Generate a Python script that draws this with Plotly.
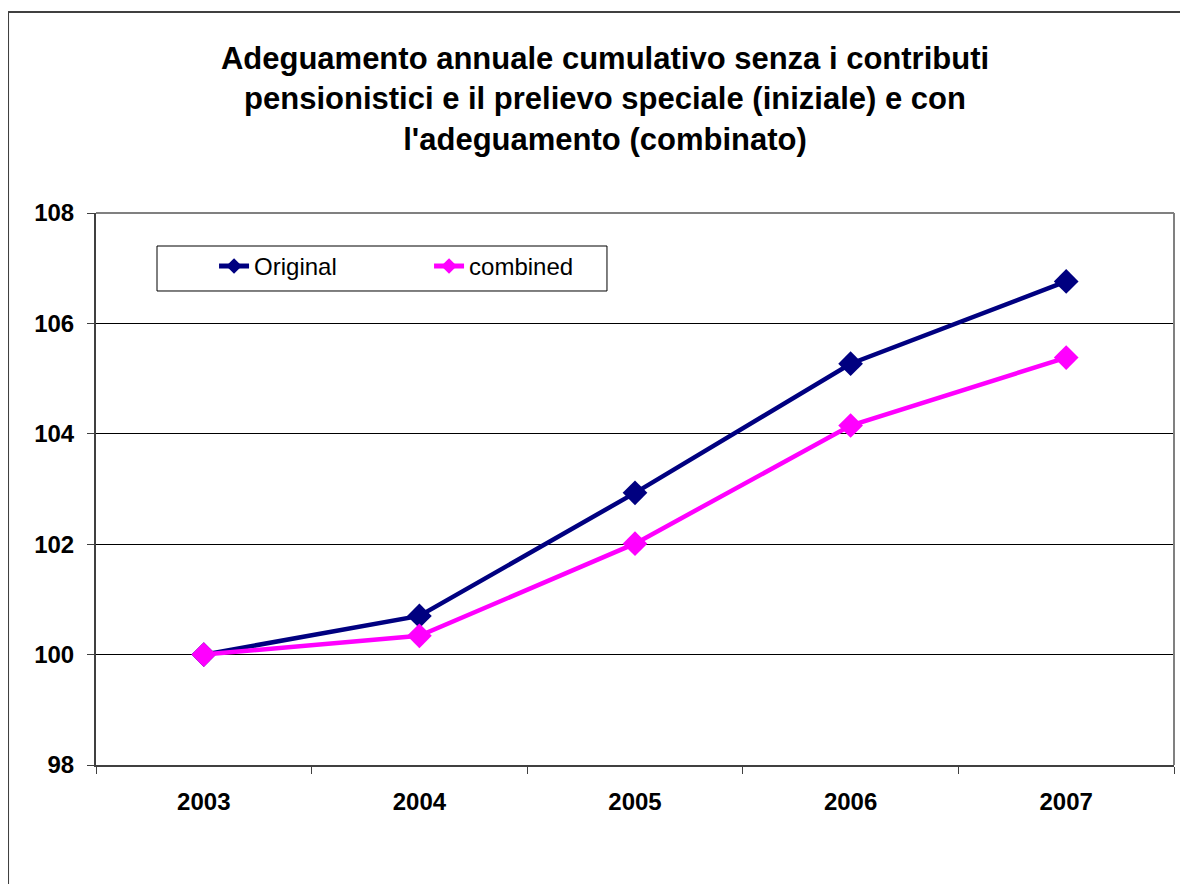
import plotly.graph_objects as go

years = ["2003", "2004", "2005", "2006", "2007"]
original = [100.0, 100.7, 102.93, 105.27, 106.76]
combined = [100.0, 100.34, 102.01, 104.15, 105.38]

title_lines = [
    "Adeguamento annuale cumulativo senza i contributi",
    "pensionistici e il prelievo speciale (iniziale) e con",
    "l'adeguamento (combinato)",
]

FONT = "Arial, Liberation Sans, sans-serif"

fig = go.Figure()
fig.add_trace(go.Scatter(
    x=years, y=original, name="Original", mode="lines+markers",
    line=dict(color="#000080", width=4.5),
    marker=dict(symbol="diamond", size=19, color="#000080"),
))
fig.add_trace(go.Scatter(
    x=years, y=combined, name="combined", mode="lines+markers",
    line=dict(color="#FF00FF", width=4.5),
    marker=dict(symbol="diamond", size=19, color="#FF00FF"),
))

# plot area border (top / right), legend box and outer chart frame
border = "#808080"
frame = "#404040"
shapes = [
    dict(type="line", xref="paper", yref="paper", x0=0, x1=1, y0=1, y1=1,
         line=dict(color=border, width=2), layer="above"),
    dict(type="line", xref="paper", yref="paper", x0=1, x1=1, y0=0, y1=1,
         line=dict(color=border, width=2), layer="above"),
    dict(type="rect", xref="paper", yref="paper", x0=0.0566, x1=0.474, y0=0.8587, y1=0.9402,
         line=dict(color="black", width=1), layer="above"),
    dict(type="line", xref="paper", yref="paper", x0=-0.0816, x1=-0.0816, y0=-0.3, y1=1.364,
         line=dict(color=frame, width=2)),
    dict(type="line", xref="paper", yref="paper", x0=-0.0816, x1=1.05, y0=1.364, y1=1.364,
         line=dict(color=frame, width=2)),
]

# the page body adds an 8px offset, so margins are shifted to compensate
fig.update_layout(
    width=1188, height=884,
    margin=dict(l=88, r=22, t=205, b=127),
    paper_bgcolor="white", plot_bgcolor="white",
    font=dict(family=FONT, color="black"),
    title=dict(
        text="<br>".join(title_lines),
        font=dict(size=31, family=FONT, color="black", weight="bold"),
        x=597 / 1188, xref="container", xanchor="center",
        y=1 - 61 / 884, yref="container", yanchor="top",
    ),
    showlegend=True,
    legend=dict(
        orientation="h",
        x=0.1095, y=0.944, xanchor="left", yanchor="top",
        borderwidth=0, bgcolor="rgba(0,0,0,0)",
        font=dict(size=24, family=FONT, color="black"),
        entrywidth=170, entrywidthmode="pixels",
        itemsizing="constant",
    ),
    shapes=shapes,
    hovermode=False,
)

fig.update_xaxes(
    type="category", tickson="boundaries", range=[-0.5, len(years) - 0.5],
    ticks="outside", ticklen=7, tickwidth=1, tickcolor=frame,
    showline=True, linecolor=frame, linewidth=2,
    showgrid=False,
    tickfont=dict(size=24, family=FONT, color="black", weight="bold"),
    ticklabelstandoff=14,
)
fig.update_yaxes(
    range=[98, 108], dtick=2,
    ticks="outside", ticklen=7, tickwidth=1, tickcolor=frame,
    showline=True, linecolor=frame, linewidth=2,
    showgrid=True, gridcolor="black", gridwidth=1,
    zeroline=False,
    tickfont=dict(size=24, family=FONT, color="black", weight="bold"),
    ticklabelstandoff=8,
)

fig.write_html("out.html")
